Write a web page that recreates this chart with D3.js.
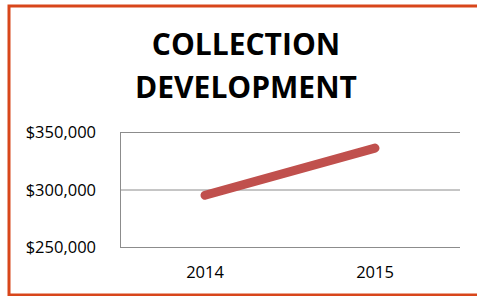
<!DOCTYPE html>
<html>
<head>
<meta charset="utf-8">
<script src="https://cdn.jsdelivr.net/npm/d3@7"></script>
<style>
  body { margin: 0; background: #fff; }
  svg { display: block; font-family: "Open Sans", sans-serif; }
</style>
</head>
<body>
<div id="chart"></div>
<script>
// Chart data
const years = ["2014", "2015"];
const amounts = [295000, 336000];
const yTicks = [250000, 300000, 350000];
const titleLines = ["COLLECTION", "DEVELOPMENT"];

const W = 477, H = 296;
const svg = d3.select("#chart").append("svg")
  .attr("width", W).attr("height", H);

// outer frame (runs off the right edge like the original)
svg.append("rect")
  .attr("x", 9).attr("y", 6)
  .attr("width", 480).attr("height", 289)
  .attr("fill", "none")
  .attr("stroke", "#d8461b")
  .attr("stroke-width", 3);

// title
svg.append("g").selectAll("text")
  .data(titleLines)
  .join("text")
    .attr("x", 246)
    .attr("y", (d, i) => 55 + i * 43)
    .attr("text-anchor", "middle")
    .attr("font-size", 30)
    .attr("font-weight", "bold")
    .attr("fill", "#000")
    .text(d => d);

const plotL = 120, plotR = 460, plotT = 132, plotB = 247;

const x = d3.scaleBand().domain(years).range([plotL, plotR]);
const y = d3.scaleLinear().domain([250000, 350000]).range([plotB, plotT]);

// gridlines
svg.append("g").selectAll("line")
  .data(yTicks)
  .join("line")
    .attr("x1", plotL).attr("x2", plotR)
    .attr("y1", d => y(d) + 0.5).attr("y2", d => y(d) + 0.5)
    .attr("stroke", "#8c8c8c")
    .attr("stroke-width", 1);

// left axis line
svg.append("line")
  .attr("x1", plotL + 0.5).attr("x2", plotL + 0.5)
  .attr("y1", plotT).attr("y2", plotB + 1)
  .attr("stroke", "#8c8c8c");

// y tick labels
const fmt = d => "$" + d3.format(",")(d);
svg.append("g").selectAll("text")
  .data(yTicks)
  .join("text")
    .attr("x", 96)
    .attr("y", d => y(d) + 6)
    .attr("text-anchor", "end")
    .attr("font-size", 16.5)
    .attr("fill", "#000")
    .text(fmt);

// x labels
svg.append("g").selectAll("text")
  .data(years)
  .join("text")
    .attr("x", d => x(d) + x.bandwidth() / 2)
    .attr("y", 278)
    .attr("text-anchor", "middle")
    .attr("font-size", 16.5)
    .attr("fill", "#000")
    .text(d => d);

// series line
const line = d3.line()
  .x((d, i) => x(years[i]) + x.bandwidth() / 2)
  .y(d => y(d));

svg.append("path")
  .datum(amounts)
  .attr("d", line)
  .attr("fill", "none")
  .attr("stroke", "#c0504d")
  .attr("stroke-width", 9)
  .attr("stroke-linecap", "round");
</script>
</body>
</html>
